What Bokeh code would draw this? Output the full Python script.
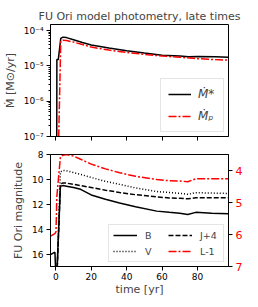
from bokeh.plotting import figure
from bokeh.models import (Range1d, LinearAxis, Legend, LegendItem, FixedTicker,
                          LogTicker, CustomJSTickFormatter, Title)
from bokeh.layouts import column
from bokeh.embed import file_html
from bokeh.resources import INLINE

FONT = "DejaVu Sans"

# ---------------- data ----------------
x_ticks = [0, 20, 40, 60, 80]
mag_ticks = [8, 10, 12, 14, 16]
l_ticks = [4, 5, 6, 7]

t_star = [-3, 0.5, 0.6, 1.4, 2.8, 4, 6, 10, 15, 20, 30, 40, 50, 60, 70, 75, 80, 90, 97.5]
mdot_star = [1e-8, 1e-8, 1.5e-5, 1.5e-5, 6.0e-5, 6.5e-5, 6.3e-5, 5.5e-5, 4.6e-5, 3.9e-5,
             3.2e-5, 2.66e-5, 2.3e-5, 2.0e-5, 1.9e-5, 1.8e-5, 1.85e-5, 1.8e-5, 1.75e-5]

t_p = [-3, 1.2, 2.8, 4, 6, 10, 15, 20, 30, 40, 50, 60, 70, 80, 90, 97.5]
mdot_p = [1e-8, 1e-8, 4.9e-5, 5.3e-5, 5.2e-5, 4.7e-5, 4.0e-5, 3.4e-5, 2.8e-5, 2.4e-5,
          2.1e-5, 1.9e-5, 1.75e-5, 1.6e-5, 1.5e-5, 1.45e-5]

t_phot = [-3, -0.5, 0.1, 0.6, 2.6, 4, 6, 10, 14, 20, 28, 36, 45, 57, 64, 70, 74.5, 79, 88, 97.5]
mag_B = [16.05, 15.85, 18.0, 17.5, 10.55, 10.5, 10.55, 10.65, 10.8, 11.25, 11.6, 11.9,
         12.2, 12.55, 12.65, 12.72, 12.82, 12.65, 12.72, 12.77]
mag_V = [20, 20, 20, 18, 9.4, 9.28, 9.3, 9.45, 9.6, 9.85, 10.15, 10.4, 10.68, 10.98,
         11.05, 11.12, 11.2, 11.07, 11.1, 11.13]
mag_J4 = [20, 20, 20, 18, 10.4, 10.28, 10.3, 10.4, 10.5, 10.65, 10.87, 11.05, 11.23, 11.4,
          11.5, 11.52, 11.56, 11.48, 11.48, 11.48]
mag_L1 = [6.05, 5.97, 5.92, 4.8, 3.58, 3.52, 3.5, 3.55, 3.65, 3.8, 3.95, 4.07, 4.18, 4.28,
          4.32, 4.33, 4.35, 4.26, 4.26, 4.26]


def style_axes(p):
    for ax in p.xaxis + p.yaxis:
        ax.axis_line_color = "black"
        ax.major_tick_line_color = "black"
        ax.minor_tick_line_color = "black"
        ax.major_tick_in = 0
        ax.major_tick_out = 4
        ax.minor_tick_in = 0
        ax.minor_tick_out = 2
        ax.major_label_text_font = FONT
        ax.major_label_text_font_size = "9px"
        ax.major_label_text_color = "black"
        ax.major_label_standoff = 3
        ax.axis_label_text_font = FONT
        ax.axis_label_text_font_size = "11px"
        ax.axis_label_text_font_style = "normal"
        ax.axis_label_standoff = 4
    p.grid.visible = False
    p.outline_line_color = "black"
    p.outline_line_width = 1


xr = Range1d(-3, 97.5)

# ---------------- top panel ----------------
p1 = figure(frame_width=178, frame_height=112, x_range=xr, y_range=Range1d(1e-7, 1.48e-4),
            y_axis_type="log", output_backend="svg", toolbar_location=None,
            min_border_left=50, min_border_right=14, min_border_top=24, min_border_bottom=10,
            title=Title(text="FU Ori model photometry, late times", align="center",
                        vertical_align="bottom", standoff=4,
                        text_font=FONT, text_font_size="11px", text_font_style="normal"))

r_star = p1.line(t_star, mdot_star, line_color="black", line_width=1.5)
r_p = p1.line(t_p, mdot_p, line_color="red", line_width=1.5, line_dash="8 2 2 2")

style_axes(p1)
p1.xaxis.ticker = FixedTicker(ticks=x_ticks)
p1.xaxis.minor_tick_line_color = None
p1.xaxis.formatter = CustomJSTickFormatter(code='return "";')
p1.xaxis.major_label_standoff = 0
p1.yaxis.ticker = LogTicker(num_minor_ticks=10)
p1.yaxis.formatter = CustomJSTickFormatter(code="""
const e = Math.round(Math.log10(tick));
const m = {"-":"\u207b","0":"\u2070","1":"\u00b9","2":"\u00b2","3":"\u00b3","4":"\u2074","5":"\u2075","6":"\u2076","7":"\u2077","8":"\u2078","9":"\u2079"};
return "10" + String(e).split("").map(c => m[c]).join("");
""")
p1.yaxis.axis_label = "Ṁ [M⊙/yr]"

leg1 = Legend(items=[LegendItem(label="Ṁ*", renderers=[r_star]),
                     LegendItem(label="Ṁₚ", renderers=[r_p])],
              location="bottom_right", margin=4, padding=7, spacing=6,
              label_text_font=FONT, label_text_font_size="12px",
              label_text_font_style="italic",
              glyph_width=23, glyph_height=16, label_height=16, label_width=18,
              label_standoff=7,
              border_line_color="#cccccc", background_fill_alpha=0.8)
p1.add_layout(leg1)

# ---------------- bottom panel ----------------
p2 = figure(frame_width=178, frame_height=112, x_range=xr, y_range=Range1d(17, 8),
            output_backend="svg", toolbar_location=None,
            min_border_left=50, min_border_right=14, min_border_top=8, min_border_bottom=28)
p2.extra_y_ranges = {"L": Range1d(7, 3.5)}

rB = p2.line(t_phot, mag_B, line_color="black", line_width=1.5)
rV = p2.line(t_phot, mag_V, line_color="black", line_width=1.5, line_dash="1 2")
rJ = p2.line(t_phot, mag_J4, line_color="black", line_width=1.5, line_dash="5 2")
rL = p2.line(t_phot, mag_L1, line_color="red", line_width=1.5, line_dash="8 2 2 2",
             y_range_name="L")

axR = LinearAxis(y_range_name="L", ticker=FixedTicker(ticks=l_ticks))
p2.add_layout(axR, "right")

style_axes(p2)
p2.xaxis.ticker = FixedTicker(ticks=x_ticks)
p2.yaxis[0].ticker = FixedTicker(ticks=mag_ticks)
for ax in p2.xaxis + p2.yaxis:
    ax.minor_tick_line_color = None
axR.major_label_text_color = "red"
axR.major_label_text_font_size = "11px"
p2.xaxis.axis_label = "time [yr]"
p2.xaxis.axis_label_standoff = 0
p2.xaxis.major_label_standoff = 2
p2.yaxis[0].axis_label = "FU Ori magnitude"

leg2 = Legend(items=[LegendItem(label="B", renderers=[rB]),
                     LegendItem(label="V", renderers=[rV]),
                     LegendItem(label="J+4", renderers=[rJ]),
                     LegendItem(label="L-1", renderers=[rL])],
              ncols=2, location="bottom_right", margin=4, padding=4, spacing=4,
              label_text_font=FONT, label_text_font_size="9.5px",
              glyph_width=24, glyph_height=12, label_height=12, label_width=19,
              label_standoff=8,
              border_line_color="#cccccc", background_fill_alpha=0.8)
p2.add_layout(leg2)

layout = column(p1, p2)
open("out.html", "w").write(file_html(layout, INLINE))
